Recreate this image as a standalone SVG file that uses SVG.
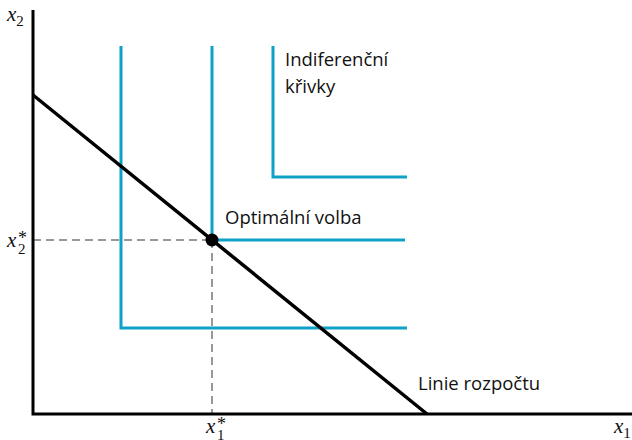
<svg xmlns="http://www.w3.org/2000/svg" width="632" height="440" viewBox="0 0 632 440">
<style>
.ic{fill:none;stroke:#0ea2c9;stroke-width:3}
.ax{fill:none;stroke:#000;stroke-width:3}
.dash{fill:none;stroke:#333;stroke-width:1;stroke-dasharray:8,5}
.lbl{font-family:"Open Sans","Noto Sans",sans-serif;font-size:18.5px;fill:#111}
.var{font-family:"Liberation Serif",serif;font-style:italic;font-size:21px;fill:#111}
.sub{font-family:"Liberation Serif",serif;font-style:normal;font-size:15px;fill:#111}
.star{font-family:"Liberation Serif",serif;font-style:normal;font-size:18px;fill:#111}
</style>
<rect width="632" height="440" fill="#fff"/>
<g id="connectors">
<path class="dash" d="M33 240H212M212 240V414"/>
<path class="ax" d="M33 10V414H632"/>
<path class="ic" d="M121 46V328H407"/>
<path class="ic" d="M212 46V240H405"/>
<path class="ic" d="M273 46V177H407"/>
<path d="M33 95L427 414" fill="none" stroke="#000" stroke-width="3.5"/>
</g>
<g id="optimum">
<circle cx="212" cy="240" r="6.5" fill="#000"/>
<text class="lbl" x="225" y="224">Optimální volba</text>
</g>
<g id="indiff"><text class="lbl" x="285" y="66">Indiferenční</text><text class="lbl" x="285" y="93">křivky</text></g>
<g id="budget"><text class="lbl" x="418" y="390">Linie rozpočtu</text></g>
<g id="labels">
<text class="var" x="7" y="21">x<tspan class="sub" dy="5">2</tspan></text>
<text class="var" x="7" y="247">x<tspan class="star" x="18" y="244">*</tspan><tspan class="sub" x="18" y="254">2</tspan></text>
<text class="var" x="206" y="433">x<tspan class="star" x="217" y="430">*</tspan><tspan class="sub" x="217" y="440">1</tspan></text>
<text class="var" x="614" y="433">x<tspan class="sub" dy="5">1</tspan></text>
</g>
</svg>
